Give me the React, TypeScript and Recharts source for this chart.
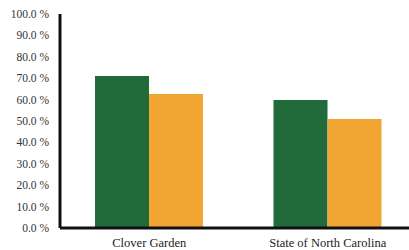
import { BarChart, Bar, XAxis, YAxis } from "recharts";

const categories = ["Clover Garden", "State of North Carolina"];
const seriesA = [71.0, 59.8];
const seriesB = [62.6, 50.9];
const yTicks = [0, 10, 20, 30, 40, 50, 60, 70, 80, 90, 100];

const GREEN = "#216b3b";
const ORANGE = "#f1a533";
const FONT = "'Liberation Serif', 'DejaVu Serif', serif";

const data = categories.map((name, i) => ({ name, a: seriesA[i], b: seriesB[i] }));

export default function App() {
  return (
    <div style={{ position: "absolute", left: 0, top: 0, width: 409, height: 250, overflow: "hidden", background: "#fff" }}>
      <BarChart
        width={417}
        height={250}
        data={data}
        margin={{ top: 14, right: 0, bottom: 0, left: 0 }}
        barGap={0}
        barSize={54}
      >
        <XAxis
          dataKey="name"
          height={22}
          tickLine={false}
          axisLine={{ stroke: "#111", strokeWidth: 3 }}
          tick={{ fill: "#222", fontSize: 12.5, fontFamily: FONT }}
          tickMargin={4}
          interval={0}
        />
        <YAxis
          width={60}
          domain={[0, 100]}
          ticks={yTicks}
          tickFormatter={(v: number) => `${v.toFixed(1)} %`}
          tickLine={false}
          axisLine={{ stroke: "#111", strokeWidth: 3 }}
          tick={{ fill: "#333", fontSize: 11.5, fontFamily: FONT }}
          tickMargin={5}
          interval={0}
        />
        <Bar dataKey="a" fill={GREEN} isAnimationActive={false} />
        <Bar dataKey="b" fill={ORANGE} isAnimationActive={false} />
      </BarChart>
    </div>
  );
}
